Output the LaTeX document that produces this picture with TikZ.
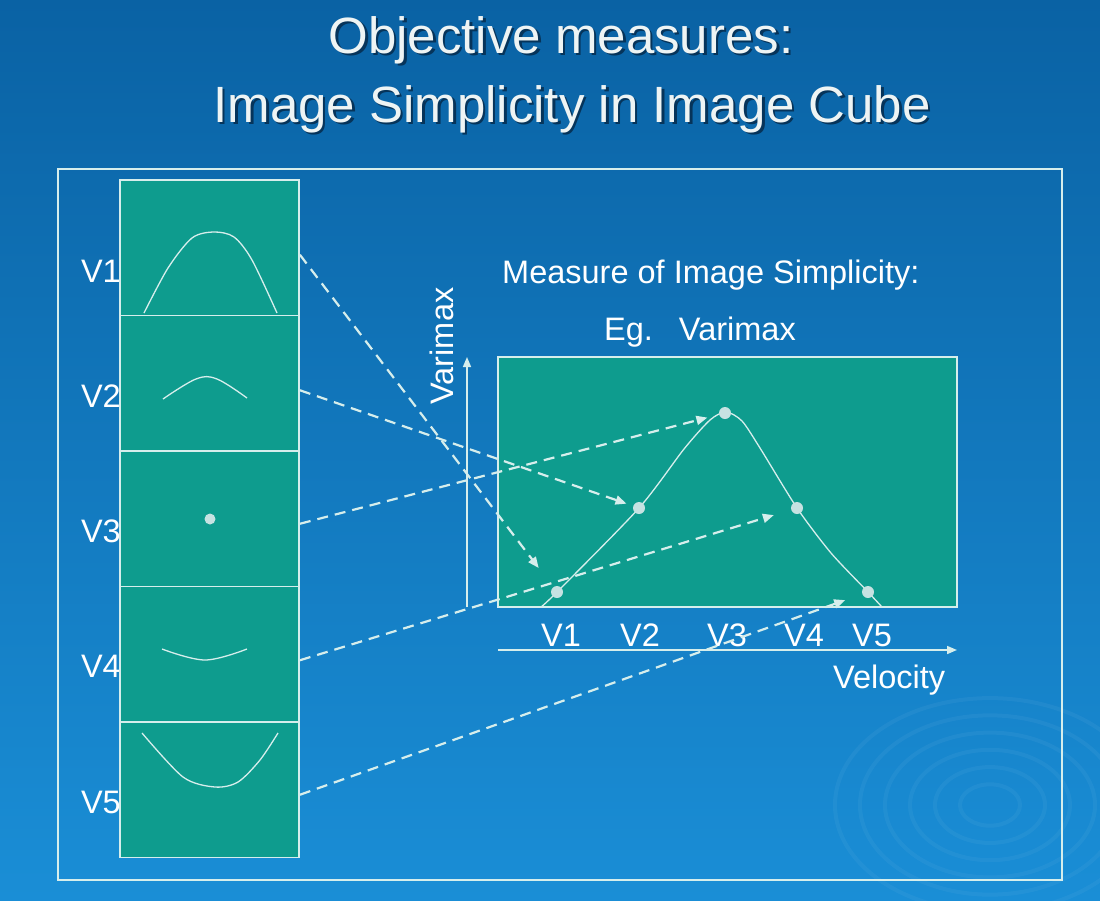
\documentclass[tikz,border=0pt]{standalone}
\usepackage{fontspec}
\setmainfont{Liberation Sans}
\usetikzlibrary{arrows.meta}
\definecolor{bgtop}{HTML}{0A62A4}
\definecolor{bgmid}{HTML}{0F76BC}
\definecolor{bgbot}{HTML}{1A8ED6}
\definecolor{tealbox}{HTML}{0E9C8E}
\definecolor{linec}{HTML}{D6EEEC}
\definecolor{dotc}{HTML}{C6E2E2}
\definecolor{shadowc}{HTML}{06345A}
\definecolor{titlec}{HTML}{EEF4F4}
\newcommand{\shadowed}[1]{\rlap{\hspace{2.5pt}\raisebox{-2.5pt}{\textcolor{shadowc}{#1}}}#1}
\begin{document}
\begin{tikzpicture}[x=1pt,y=-1pt,
  box/.style={draw=linec, line width=1.8pt, fill=tealbox, minimum width=179pt, minimum height=135.5pt, inner sep=0pt},
  gbox/.style={draw=linec, line width=1.8pt, fill=tealbox, minimum width=459pt, minimum height=250pt, inner sep=0pt},
  sketch/.style={draw=linec, line width=1.3pt},
  lab/.style={text=white, font=\fontsize{32.5}{36}\selectfont, inner sep=0pt},
  ttl/.style={font=\fontsize{51}{58}\selectfont, inner sep=0pt, anchor=base, text=titlec},
  ptdot/.style={circle, fill=dotc, minimum size=12pt, inner sep=0pt},
  dasharrow/.style={draw=linec, line width=2.2pt, dash pattern=on 11pt off 7pt, -{Triangle[length=11pt,width=9pt]}},
  axisline/.style={draw=linec, line width=1.6pt, -{Triangle[length=10pt,width=8pt]}}]
\useasboundingbox (0,0) rectangle (1100,900);
\shade[top color=bgtop, middle color=bgmid, bottom color=bgbot] (0,0) rectangle (1100,900);
% ripples
\begin{scope}[white, opacity=0.045, line width=4pt]
  \foreach \r in {30,55,80,105,130,155}
    \draw (990,805) ellipse [x radius=\r, y radius=\r/1.45];
\end{scope}
% title
\node[ttl] (t1) at (561,53) {\shadowed{Objective measures:}};
\node[ttl] (t2) at (572,122) {\shadowed{Image Simplicity in Image Cube}};
% outer frame
\draw[linec, line width=2pt] (58,169) rectangle (1062,880);
% left labels
\node[lab, anchor=base east] (l1) at (121,282) {V1};
\node[lab, anchor=base east] (l2) at (121,407) {V2};
\node[lab, anchor=base east] (l3) at (121,542) {V3};
\node[lab, anchor=base east] (l4) at (121,677) {V4};
\node[lab, anchor=base east] (l5) at (121,813) {V5};
% boxes
\node[box] (b1) at (209.5,247.75) {};
\node[box] (b2) at (209.5,383.25) {};
\node[box] (b3) at (209.5,518.75) {};
\node[box] (b4) at (209.5,654.25) {};
\node[box] (b5) at (209.5,789.75) {};
% box sketches
\draw[sketch] plot[smooth, tension=0.5] coordinates {(144,313) (168,268) (192,238) (214,232) (234,237) (252,260) (277,313)};
\draw[sketch] plot[smooth, tension=0.6] coordinates {(163,399) (196,379) (217,379) (247,398)};
\fill[dotc] (210,519) circle (5.5);
\draw[sketch] plot[smooth, tension=0.6] coordinates {(162,649) (205,660) (247,649)};
\draw[sketch] plot[smooth, tension=0.5] coordinates {(142,733) (183,777) (215,787) (238,782) (260,760) (278,733)};
% graph texts
\node[lab, anchor=base west] (m1) at (502,283) {Measure of Image Simplicity:};
\node[lab, anchor=base west] (m2) at (604,340) {Eg.\hspace{26pt}Varimax};
\node[lab, anchor=base, rotate=90] (vy) at (453,346) {Varimax};
% graph box
\node[gbox] (g) at (727.5,482) {};
% axes
\coordinate (ya) at (467,607);
\coordinate (yb) at (467,357);
\coordinate (xa) at (498,650);
\coordinate (xb) at (957,650);
\draw[axisline] (ya) -- (yb);
\draw[axisline] (xa) -- (xb);
\node[lab, anchor=base] (x1) at (561,646) {V1};
\node[lab, anchor=base] (x2) at (640,646) {V2};
\node[lab, anchor=base] (x3) at (727,646) {V3};
\node[lab, anchor=base] (x4) at (804,646) {V4};
\node[lab, anchor=base] (x5) at (872,646) {V5};
\node[lab, anchor=base west] (vel) at (833,688) {Velocity};
% curve
\draw[sketch] plot[smooth, tension=0.45] coordinates {(541,607) (557,592) (639,508) (684,449) (710,420) (726,412) (742,421) (760,448) (797,508) (831,553) (868,592) (882,607)};
% dots
\node[ptdot] (d1) at (557,592) {};
\node[ptdot] (d2) at (639,508) {};
\node[ptdot] (d3) at (725,413) {};
\node[ptdot] (d4) at (797,508) {};
\node[ptdot] (d5) at (868,592) {};
% dashed arrows
\draw[dasharrow, shorten >=24pt] ([yshift=-7pt]b1.east) -- (d1);
\draw[dasharrow, shorten >=7pt] ([yshift=-7pt]b2.east) -- (d2);
\draw[dasharrow, shorten >=12pt] ([yshift=-5pt]b3.east) -- (d3);
\draw[dasharrow, shorten >=18pt] ([yshift=-6pt]b4.east) -- (d4);
\draw[dasharrow, shorten >=18pt] ([yshift=-5pt]b5.east) -- (d5);
\end{tikzpicture}
\end{document}
